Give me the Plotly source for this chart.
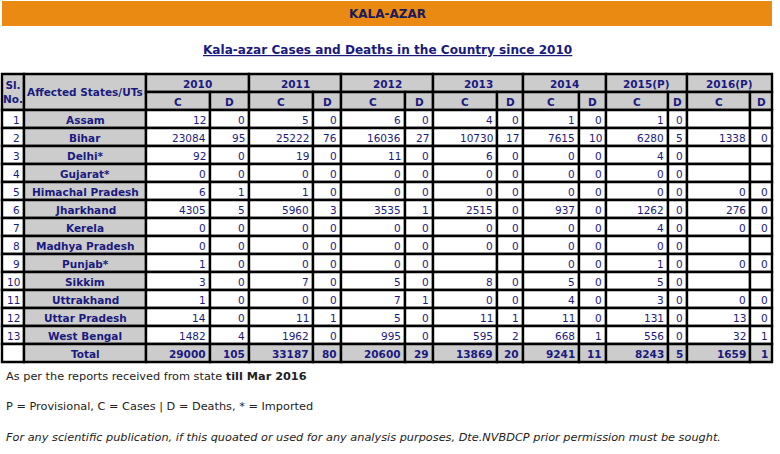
import plotly.graph_objects as go

# ---------------- data ----------------
title_text = "KALA-AZAR"
subtitle_text = "Kala-azar Cases and Deaths in the Country since 2010"
years = ["2010", "2011", "2012", "2013", "2014", "2015(P)", "2016(P)"]
sl_no = [1, 2, 3, 4, 5, 6, 7, 8, 9, 10, 11, 12, 13]
states = ["Assam", "Bihar", "Delhi*", "Gujarat*", "Himachal Pradesh", "Jharkhand",
          "Kerela", "Madhya Pradesh", "Punjab*", "Sikkim", "Uttrakhand",
          "Uttar Pradesh", "West Bengal"]

cases_2010 = [12, 23084, 92, 0, 6, 4305, 0, 0, 1, 3, 1, 14, 1482]
deaths_2010 = [0, 95, 0, 0, 1, 5, 0, 0, 0, 0, 0, 0, 4]
cases_2011 = [5, 25222, 19, 0, 1, 5960, 0, 0, 0, 7, 0, 11, 1962]
deaths_2011 = [0, 76, 0, 0, 0, 3, 0, 0, 0, 0, 0, 1, 0]
cases_2012 = [6, 16036, 11, 0, 0, 3535, 0, 0, 0, 5, 7, 5, 995]
deaths_2012 = [0, 27, 0, 0, 0, 1, 0, 0, 0, 0, 1, 0, 0]
cases_2013 = [4, 10730, 6, 0, 0, 2515, 0, 0, None, 8, 0, 11, 595]
deaths_2013 = [0, 17, 0, 0, 0, 0, 0, 0, None, 0, 0, 1, 2]
cases_2014 = [1, 7615, 0, 0, 0, 937, 0, 0, 0, 5, 4, 11, 668]
deaths_2014 = [0, 10, 0, 0, 0, 0, 0, 0, 0, 0, 0, 0, 1]
cases_2015 = [1, 6280, 4, 0, 0, 1262, 4, 0, 1, 5, 3, 131, 556]
deaths_2015 = [0, 5, 0, 0, 0, 0, 0, 0, 0, 0, 0, 0, 0]
cases_2016 = [None, 1338, None, None, 0, 276, 0, None, 0, None, 0, 13, 32]
deaths_2016 = [None, 0, None, None, 0, 0, 0, None, 0, None, 0, 0, 1]

total_cases = [29000, 33187, 20600, 13869, 9241, 8243, 1659]
total_deaths = [105, 80, 29, 20, 11, 5, 1]

note_1 = "As per the reports received from state <b>till Mar 2016</b>"
note_2 = "P = Provisional, C = Cases | D = Deaths, * = Imported"
note_3 = ("<i>For any scientific publication, if this quoated or used for any analysis "
          "purposes, Dte.NVBDCP prior permission must be sought.</i>")

cases = [cases_2010, cases_2011, cases_2012, cases_2013, cases_2014, cases_2015, cases_2016]
deaths = [deaths_2010, deaths_2011, deaths_2012, deaths_2013, deaths_2014, deaths_2015, deaths_2016]

# ---------------- layout geometry ----------------
W, H = 780, 454
col_edges = [2, 24, 146, 210, 249, 313, 341, 405, 433, 497, 523, 579, 606, 668, 687, 750, 772]
hdr_top, hdr_mid, hdr_bot = 74, 92, 110
row_h = 18

GRAY = "#cccccc"
WHITE = "#ffffff"
NAVY = "#1a1a7e"
FONT = "DejaVu Sans"
FS = 10.5

shapes = []
annotations = []


def cell(x0, x1, y0, y1, fill):
    shapes.append(dict(type="rect", xref="x", yref="y", x0=x0, x1=x1, y0=y0, y1=y1,
                       fillcolor=fill, line=dict(color="black", width=2.4), layer="below"))


def text(x, y, s, anchor="center", size=FS, color=NAVY, bold=False, align="center"):
    if bold and s != "":
        s = "<b>" + s + "</b>"
    annotations.append(dict(x=x, y=y, xref="x", yref="y", text=s, showarrow=False,
                            xanchor=anchor, yanchor="middle", align=align,
                            font=dict(family=FONT, size=size, color=color)))


def fmt(v):
    return "" if v is None else str(v)


# orange banner
shapes.append(dict(type="rect", xref="x", yref="y", x0=2, x1=772, y0=1, y1=26,
                   fillcolor="#ea8a12", line=dict(width=0), layer="below"))
text(387, 14, title_text, size=12, color="#1a1a5e", bold=True)

# subtitle
annotations.append(dict(x=387, y=50, xref="x", yref="y",
                        text="<b><span style='text-decoration:underline'>" + subtitle_text + "</span></b>",
                        showarrow=False, xanchor="center", yanchor="middle",
                        font=dict(family=FONT, size=12.1, color=NAVY)))

# header
cell(col_edges[0], col_edges[1], hdr_top, hdr_bot, GRAY)
text((col_edges[0] + col_edges[1]) / 2, (hdr_top + hdr_bot) / 2, "Sl.<br>No.", bold=True)
cell(col_edges[1], col_edges[2], hdr_top, hdr_bot, GRAY)
text((col_edges[1] + col_edges[2]) / 2, (hdr_top + hdr_bot) / 2, "Affected States/UTs", bold=True)
for i, yr in enumerate(years):
    xc0, xd0, xd1 = col_edges[2 + 2 * i], col_edges[3 + 2 * i], col_edges[4 + 2 * i]
    cell(xc0, xd1, hdr_top, hdr_mid, GRAY)
    text((xc0 + xd1) / 2, (hdr_top + hdr_mid) / 2 + 0.5, yr, bold=True)
    cell(xc0, xd0, hdr_mid, hdr_bot, GRAY)
    text((xc0 + xd0) / 2, (hdr_mid + hdr_bot) / 2 + 0.5, "C", bold=True)
    cell(xd0, xd1, hdr_mid, hdr_bot, GRAY)
    text((xd0 + xd1) / 2, (hdr_mid + hdr_bot) / 2 + 0.5, "D", bold=True)

# body rows
for r, st in enumerate(states):
    y0 = hdr_bot + r * row_h
    y1 = y0 + row_h
    ym = (y0 + y1) / 2 + 0.5
    cell(col_edges[0], col_edges[1], y0, y1, WHITE)
    text(col_edges[1] - 2.5, ym, str(sl_no[r]), anchor="right")
    cell(col_edges[1], col_edges[2], y0, y1, GRAY)
    text((col_edges[1] + col_edges[2]) / 2, ym, st, bold=True)
    for i in range(len(years)):
        xc0, xd0, xd1 = col_edges[2 + 2 * i], col_edges[3 + 2 * i], col_edges[4 + 2 * i]
        cell(xc0, xd0, y0, y1, WHITE)
        text(xd0 - 2.5, ym, fmt(cases[i][r]), anchor="right")
        cell(xd0, xd1, y0, y1, WHITE)
        text(xd1 - 2.5, ym, fmt(deaths[i][r]), anchor="right")

# total row
y0 = hdr_bot + len(states) * row_h
y1 = y0 + row_h
ym = (y0 + y1) / 2 + 0.5
cell(col_edges[0], col_edges[1], y0, y1, WHITE)
cell(col_edges[1], col_edges[2], y0, y1, GRAY)
text((col_edges[1] + col_edges[2]) / 2, ym, "Total", bold=True)
for i in range(len(years)):
    xc0, xd0, xd1 = col_edges[2 + 2 * i], col_edges[3 + 2 * i], col_edges[4 + 2 * i]
    cell(xc0, xd0, y0, y1, GRAY)
    text(xd0 - 2.5, ym, str(total_cases[i]), anchor="right", bold=True)
    cell(xd0, xd1, y0, y1, GRAY)
    text(xd1 - 2.5, ym, str(total_deaths[i]), anchor="right", bold=True)

# notes
text(4, 376, note_1, anchor="left", size=11.3, color="#222222", align="left")
text(4, 406, note_2, anchor="left", size=11.3, color="#222222", align="left")
text(4, 437, note_3, anchor="left", size=11.3, color="#222222", align="left")

fig = go.Figure()
fig.update_layout(
    width=W, height=H,
    margin=dict(l=0, r=0, t=0, b=0),
    paper_bgcolor="white", plot_bgcolor="white",
    xaxis=dict(range=[0, W], visible=False, fixedrange=True),
    yaxis=dict(range=[H, 0], visible=False, fixedrange=True),
    shapes=shapes, annotations=annotations, showlegend=False,
)
fig.write_html("out.html", post_script="document.body.style.margin='0';",
               config={"displayModeBar": False})
